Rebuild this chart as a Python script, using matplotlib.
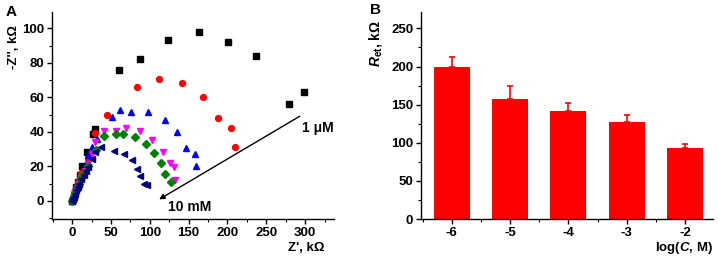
import matplotlib
matplotlib.use("Agg")
import matplotlib.pyplot as plt
from matplotlib.ticker import MultipleLocator

plt.rcParams['font.family'] = ['Liberation Sans', 'DejaVu Sans']
plt.rcParams['font.weight'] = 'bold'
plt.rcParams['mathtext.fontset'] = 'custom'
plt.rcParams['mathtext.rm'] = 'Liberation Sans:bold'
plt.rcParams['mathtext.it'] = 'Liberation Sans:bold:italic'
plt.rcParams['mathtext.bf'] = 'Liberation Sans:bold'

# ---- Panel A data (Nyquist plots) ----
sq_x = [0, 1, 2, 3, 5, 7, 10, 13, 19, 27, 30, 60, 88, 124, 163, 201, 237, 279, 299]
sq_y = [0, 1, 3, 5, 8, 11, 15, 20, 28, 38.7, 41.4, 75.8, 82, 93, 98, 92, 84, 56, 63]
ci_x = [0, 1, 2, 4, 6, 8, 10, 12, 20, 30, 45, 83, 112, 141, 169, 188, 204, 210]
ci_y = [0, 1, 3, 6, 8, 11, 13, 16, 24.6, 39.5, 50, 66, 70.6, 68.5, 60, 48, 42, 31]
up_x = [0, 1, 2, 4, 6, 9, 12, 15, 18, 21, 25, 31.7, 51, 61, 76, 98, 119.6, 134.6, 146.6, 158, 160]
up_y = [0, 1, 2.5, 5, 7.5, 10, 13, 16, 21.7, 26.5, 31, 36, 48.7, 52.6, 51.7, 51.7, 46.8, 39.7, 30.4, 27, 20.3]
dn_x = [0, 1, 2, 4, 6, 9, 12, 16, 20, 25, 30, 41, 56, 69, 88, 103, 117, 125.6, 131, 132]
dn_y = [0, 1, 2.5, 5, 7.5, 10, 13, 17, 21.5, 27, 34, 40.6, 40.6, 42.4, 40.6, 35, 28.4, 21.7, 19.7, 12]
di_x = [0, 1, 2, 4, 6, 9, 12, 14.6, 20.6, 31, 41, 56.6, 65, 81, 94.7, 105, 115, 119.6, 127]
di_y = [0, 1, 2.5, 5, 7.5, 10, 13, 16, 20.3, 29.4, 37.5, 39, 38.7, 37, 32.9, 27.5, 21.7, 15.7, 11]
lt_x = [0, 1, 2, 3, 5, 7, 9, 11, 14.6, 18, 21, 25, 30, 37, 54, 67, 77, 83, 88, 92.6, 97]
lt_y = [0, 1, 2, 4, 6, 8, 10, 12.5, 15, 17, 19.7, 24, 28, 31.3, 29, 27, 23.6, 18.2, 14.3, 10, 9]

# ---- Panel B data ----
logc = [-6, -5, -4, -3, -2]
ret = [200, 158, 142, 127, 93]
ret_err = [13, 16, 10, 9, 5]

fig = plt.figure(figsize=(7.19, 2.58), dpi=100)
fs = 9.5

axA = fig.add_axes([0.0723, 0.151, 0.392, 0.804])
ms = 4.2
axA.plot(sq_x, sq_y, 's', color='black', ms=ms, ls='none')
axA.plot(ci_x, ci_y, 'o', color='#ff0000', ms=ms, ls='none')
axA.plot(up_x, up_y, '^', color='#0000ff', ms=ms + 0.5, ls='none')
axA.plot(dn_x, dn_y, 'v', color='#ff00ff', ms=ms + 0.5, ls='none')
axA.plot(di_x, di_y, 'D', color='#008000', ms=ms - 0.5, ls='none')
axA.plot(lt_x, lt_y, '<', color='#000080', ms=ms + 0.5, ls='none')
axA.set_xlim(-26, 337)
axA.set_ylim(-10.6, 109.7)
axA.xaxis.set_major_locator(MultipleLocator(50))
axA.xaxis.set_minor_locator(MultipleLocator(25))
axA.yaxis.set_major_locator(MultipleLocator(20))
axA.yaxis.set_minor_locator(MultipleLocator(10))
axA.annotate('', xy=(112, 0.8), xytext=(293, 49),
             arrowprops=dict(arrowstyle='-|>', color='black', lw=1.0,
                             mutation_scale=8, shrinkA=0, shrinkB=0))
axA.text(296, 42, '1 μM', fontsize=fs + 0.5, fontweight='bold', va='center', ha='left')
axA.text(124, -3.5, '10 mM', fontsize=fs + 0.5, fontweight='bold', va='center', ha='left')

axB = fig.add_axes([0.5855, 0.151, 0.406, 0.804])
axB.bar(logc, ret, width=0.62, color='#ff0000', yerr=[[0] * 5, ret_err],
        error_kw=dict(ecolor='#ff0000', elinewidth=1.2, capsize=2.5, capthick=1.2))
axB.set_xlim(-6.53, -1.52)
axB.set_ylim(0, 272)
axB.xaxis.set_major_locator(MultipleLocator(1))
axB.xaxis.set_minor_locator(MultipleLocator(0.5))
axB.yaxis.set_major_locator(MultipleLocator(50))
axB.yaxis.set_minor_locator(MultipleLocator(25))

for ax in (axA, axB):
    ax.spines['top'].set_visible(False)
    ax.spines['right'].set_visible(False)
    ax.spines['left'].set_linewidth(1.0)
    ax.spines['bottom'].set_linewidth(1.0)
    ax.tick_params(which='major', direction='out', length=3.5, width=1.0, labelsize=fs, pad=2)
    ax.tick_params(which='minor', direction='out', length=2, width=0.8)
    for lab in ax.get_xticklabels() + ax.get_yticklabels():
        lab.set_fontweight('bold')

axB.set_xticks(logc)
axB.set_xticklabels([str(v) for v in logc], fontweight='bold')

fig.text(0.019, 0.818, "-Z'', kΩ", rotation=90, fontsize=fs, fontweight='bold',
         ha='center', va='center')
fig.text(0.426, 0.039, "Z', kΩ", fontsize=fs, fontweight='bold', ha='center', va='center')
fig.text(0.522, 0.83, r"$\mathit{R}_{\mathrm{et}}$, kΩ", rotation=90, fontsize=fs + 0.5,
         fontweight='bold', ha='center', va='center')
fig.text(0.991, 0.039, r"log($\mathit{C}$, M)", fontsize=fs, fontweight='bold', ha='right', va='center')
fig.text(0.016, 0.955, 'A', fontsize=fs + 1.5, fontweight='bold', ha='center', va='center')
fig.text(0.522, 0.962, 'B', fontsize=fs + 1.5, fontweight='bold', ha='center', va='center')

fig.savefig('out.png', dpi=100)
